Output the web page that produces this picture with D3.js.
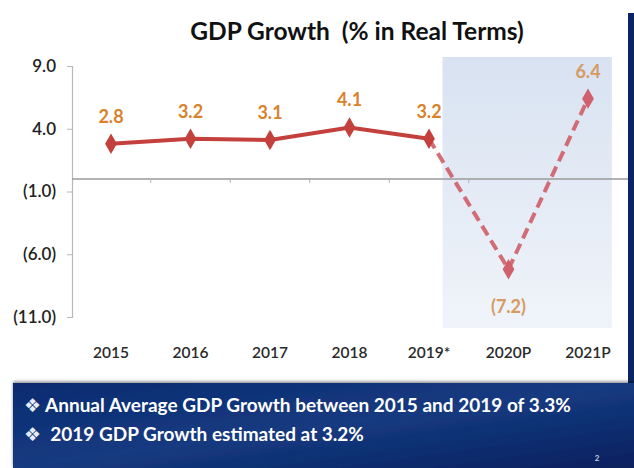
<!DOCTYPE html>
<html>
<head>
<meta charset="utf-8">
<script src="https://cdn.jsdelivr.net/npm/d3@7"></script>
<style>
  html, body { margin: 0; padding: 0; background: #fff; }
  svg { display: block; }
</style>
</head>
<body>
<svg id="chart" width="634" height="468"></svg>
<script>
// GDP growth, % in real terms
const years = ["2015", "2016", "2017", "2018", "2019*", "2020P", "2021P"];
const growth = [2.8, 3.2, 3.1, 4.1, 3.2, -7.2, 6.4];
const projected = [false, false, false, false, false, true, true];
const yTicks = [9, 4, -1, -6, -11];
const notes = [
  "Annual Average GDP Growth between 2015 and 2019 of 3.3%",
  " 2019 GDP Growth estimated at 3.2%"
];

const W = 634, H = 468;
const svg = d3.select("#chart");
const font = "Lato, 'Open Sans', sans-serif";
const fmt = v => v < 0 ? "(" + d3.format(".1f")(-v) + ")" : d3.format(".1f")(v);

const x = d3.scalePoint().domain(years).range([111, 588]);
const y = d3.scaleLinear().domain([-11, 9]).range([317, 66]);

const defs = svg.append("defs");
const shade = defs.append("linearGradient").attr("id", "shade")
  .attr("x1", 0).attr("y1", 0).attr("x2", 0).attr("y2", 1);
shade.append("stop").attr("offset", "0%").attr("stop-color", "#d8e2f1");
shade.append("stop").attr("offset", "100%").attr("stop-color", "#f0f4fa");
const navy = defs.append("linearGradient").attr("id", "navy")
  .attr("x1", 0).attr("y1", 0).attr("x2", 1).attr("y2", 1);
navy.append("stop").attr("offset", "0%").attr("stop-color", "#0d2b70");
navy.append("stop").attr("offset", "50%").attr("stop-color", "#143a80");
navy.append("stop").attr("offset", "100%").attr("stop-color", "#08205e");
const panelShadow = defs.append("filter").attr("id", "pshadow")
  .attr("x", "-5%").attr("y", "-20%").attr("width", "110%").attr("height", "140%");
panelShadow.append("feDropShadow").attr("dx", 0).attr("dy", -1.5)
  .attr("stdDeviation", 1.5).attr("flood-color", "#000").attr("flood-opacity", 0.45);

// Projection band behind the forecast years
const step = x.step();
const bandX0 = x("2020P") - step * 0.83, bandX1 = x("2021P") + step * 0.3;
svg.append("rect")
  .attr("x", bandX0).attr("y", 57)
  .attr("width", bandX1 - bandX0)
  .attr("height", 271)
  .attr("fill", "url(#shade)");

// Title
svg.append("text")
  .attr("x", 357).attr("y", 40)
  .attr("text-anchor", "middle")
  .attr("font-family", font).attr("font-weight", 700)
  .attr("font-size", 24.5).attr("fill", "#111")
  .attr("xml:space", "preserve")
  .text("GDP Growth  (% in Real Terms)");

// Y axis
const yAxis = svg.append("g").attr("transform", "translate(72,0)")
  .call(d3.axisLeft(y).tickValues(yTicks).tickFormat(fmt).tickSize(5).tickSizeOuter(5));
yAxis.select(".domain").attr("stroke", "#b8b8b8").attr("stroke-width", 1.2);
yAxis.selectAll(".tick line").attr("stroke", "#b8b8b8");
yAxis.selectAll(".tick text")
  .attr("x", -16)
  .attr("font-family", font).attr("font-size", 17).attr("font-weight", 600)
  .attr("fill", "#222");

// Zero line with category boundary ticks
svg.append("line")
  .attr("x1", 72).attr("x2", 628).attr("y1", y(0)).attr("y2", y(0))
  .attr("stroke", "#9a9a9a").attr("stroke-width", 1.5);
svg.append("g").selectAll("line")
  .data(years.slice(0, -1))
  .join("line")
  .attr("x1", d => x(d) + step / 2).attr("x2", d => x(d) + step / 2)
  .attr("y1", y(0)).attr("y2", y(0) + 4)
  .attr("stroke", "#b0b0b0").attr("stroke-width", 1);

// Category labels
svg.append("g").selectAll("text")
  .data(years)
  .join("text")
  .attr("x", d => x(d)).attr("y", 358)
  .attr("text-anchor", "middle")
  .attr("font-family", font).attr("font-size", 15.5).attr("font-weight", 600)
  .attr("fill", "#2a2a2a")
  .text(d => d);

// Series
const pts = years.map((d, i) => ({ year: d, v: growth[i], proj: projected[i] }));
const line = d3.line().x(d => x(d.year)).y(d => y(d.v));
const actual = pts.filter(d => !d.proj);
const forecast = pts.filter((d, i) => d.proj || (pts[i + 1] && pts[i + 1].proj));

svg.append("path").datum(forecast)
  .attr("d", line)
  .attr("fill", "none").attr("stroke", "#cf5d68")
  .attr("stroke-width", 4).attr("stroke-dasharray", "11,6")
  .attr("opacity", 0.9);
svg.append("path").datum(actual)
  .attr("d", line)
  .attr("fill", "none").attr("stroke", "#c3403c")
  .attr("stroke-width", 4);

svg.append("g").selectAll("path")
  .data(pts)
  .join("path")
  .attr("transform", d => `translate(${x(d.year)},${y(d.v)})`)
  .attr("d", d3.symbol(d3.symbolDiamond, 120))
  .attr("fill", d => d.proj ? "#d0606c" : "#c3403c");

// Value labels
svg.append("g").selectAll("text")
  .data(pts)
  .join("text")
  .attr("x", d => x(d.year)).attr("y", d => d.v < 0 ? y(d.v) + 44 : y(d.v) - 21)
  .attr("text-anchor", "middle")
  .attr("font-family", font).attr("font-weight", 700).attr("font-size", 18)
  .attr("fill", d => d.proj ? "#d69a62" : "#d9822b")
  .text(d => fmt(d.v));

// Navy frame: right strip and notes panel
svg.append("rect").attr("x", 628).attr("y", 13).attr("width", 6).attr("height", 380)
  .attr("fill", "#0a2466");
svg.append("rect").attr("x", 13).attr("y", 383).attr("width", W - 13).attr("height", H - 383)
  .attr("fill", "url(#navy)").attr("filter", "url(#pshadow)");

const noteText = svg.append("g").selectAll("text")
  .data(notes)
  .join("text")
  .attr("x", 24).attr("y", (d, i) => 412 + i * 29)
  .attr("font-family", font).attr("font-weight", 700).attr("font-size", 19)
  .attr("fill", "#fff")
  .attr("xml:space", "preserve");
noteText.append("tspan")
  .attr("font-family", "'DejaVu Sans', sans-serif").attr("font-size", 19)
  .attr("fill", "#e8ecf6")
  .text("\u2756");
noteText.append("tspan").text(d => " " + d);

svg.append("text")
  .attr("x", 597).attr("y", 461)
  .attr("text-anchor", "middle")
  .attr("font-family", font).attr("font-size", 8).attr("font-weight", 700)
  .attr("fill", "#c8d0e8")
  .text("2");
</script>
</body>
</html>
